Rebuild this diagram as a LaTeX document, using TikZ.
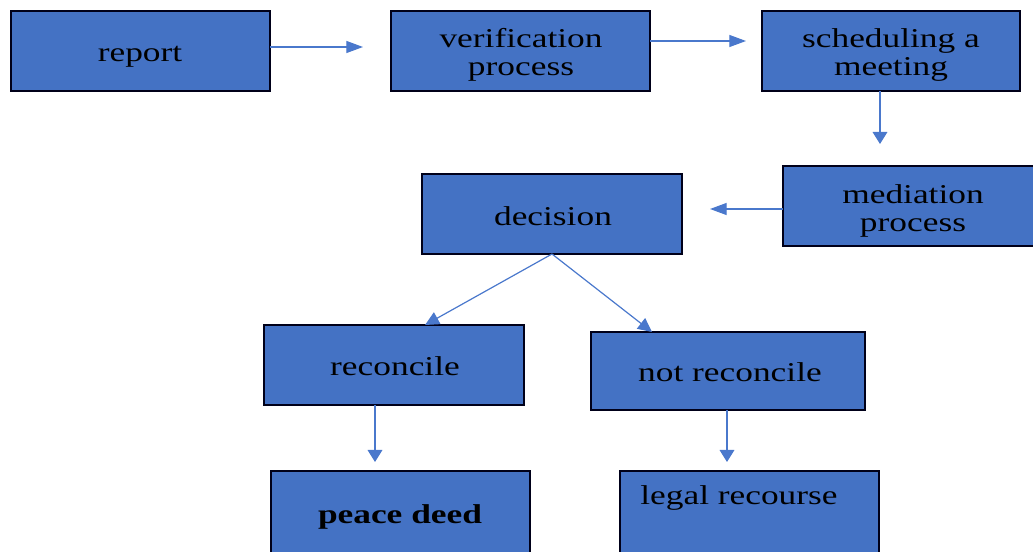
\documentclass[tikz,border=0pt]{standalone}
\usepackage{fontspec}
\setmainfont{Liberation Serif}[FakeStretch=1.30]
\usetikzlibrary{arrows.meta}
\definecolor{boxblue}{HTML}{4472C4}
\definecolor{arrblue}{HTML}{4A78CC}
\tikzset{
  box/.style={draw=black!90!blue, line width=1.8pt, fill=boxblue, inner sep=0pt, outer sep=0pt},
  lbl/.style={inner sep=0pt, anchor=base, align=center, font=\fontsize{20.4pt}{21.5pt}\selectfont, text=black},
  harr/.style={draw=arrblue, line width=0.9pt, -{Triangle[length=12.5pt,width=9pt]}},
  varr/.style={draw=arrblue, line width=0.9pt, -{Triangle[length=9pt,width=11pt]}},
  darr/.style={draw=arrblue, line width=0.9pt, -{Triangle[length=10.5pt,width=10pt]}}
}
\begin{document}
\begin{tikzpicture}[x=0.75pt,y=-0.75pt]
\useasboundingbox (0,0) rectangle (1033,552);
\clip (0,0) rectangle (1033,552);
\node[box, minimum width=194.25pt, minimum height=60pt] (report) at (140.5,51) {};
\node[box, minimum width=194.25pt, minimum height=60pt] (verif) at (520.5,51) {};
\node[box, minimum width=193.5pt, minimum height=60pt] (sched) at (891,51) {};
\node[box, minimum width=196.5pt, minimum height=60pt] (medi) at (914,206) {};
\node[box, minimum width=195pt, minimum height=60pt] (deci) at (552,214) {};
\node[box, minimum width=195pt, minimum height=60pt] (recon) at (394,365) {};
\node[box, minimum width=205.5pt, minimum height=58.5pt] (notrec) at (728,371) {};
\node[box, minimum width=194.25pt, minimum height=64.5pt] (peace) at (400.5,514) {};
\node[box, minimum width=194.25pt, minimum height=64.5pt] (legal) at (749.5,514) {};

\node[lbl] (t1) at (140,62) {report};
\node[lbl] (t2) at (521,76) {verification\\process};
\node[lbl] (t3) at (891,76) {scheduling a\\meeting};
\node[lbl] (t4) at (913,232) {mediation\\process};
\node[lbl] (t5) at (553,226) {decision};
\node[lbl] (t6) at (395,376) {reconcile};
\node[lbl] (t7) at (730,382) {not reconcile};
\node[lbl, font=\fontsize{20.4pt}{21.5pt}\selectfont\bfseries] (t8) at (400,523) {peace deed};
\node[lbl] (t9) at (739,504) {legal recourse};

\draw[harr, shorten >=21pt] ([yshift=3pt]report.east) -- ([yshift=3pt]report.east -| verif.west);
\draw[harr, shorten >=12pt] ([yshift=7.5pt]verif.east) -- ([yshift=7.5pt]verif.east -| sched.west);
\draw[varr, shorten >=16.5pt] ([xshift=-8.25pt]sched.south) -- ([xshift=-8.25pt]sched.south |- medi.north);
\draw[harr, shorten >=21pt] ([yshift=-2.25pt]medi.west) -- ([yshift=-2.25pt]medi.west -| deci.east);
\draw[darr] (deci.south) -- ([xshift=23.25pt]recon.north);
\draw[darr] (deci.south) -- ([xshift=-57pt]notrec.north);
\draw[varr, shorten >=6.75pt] ([xshift=-14.25pt]recon.south) -- ([xshift=-14.25pt]recon.south |- peace.north);
\draw[varr, shorten >=6.75pt] ([xshift=-0.75pt]notrec.south) -- ([xshift=-0.75pt]notrec.south |- legal.north);
\end{tikzpicture}
\end{document}
